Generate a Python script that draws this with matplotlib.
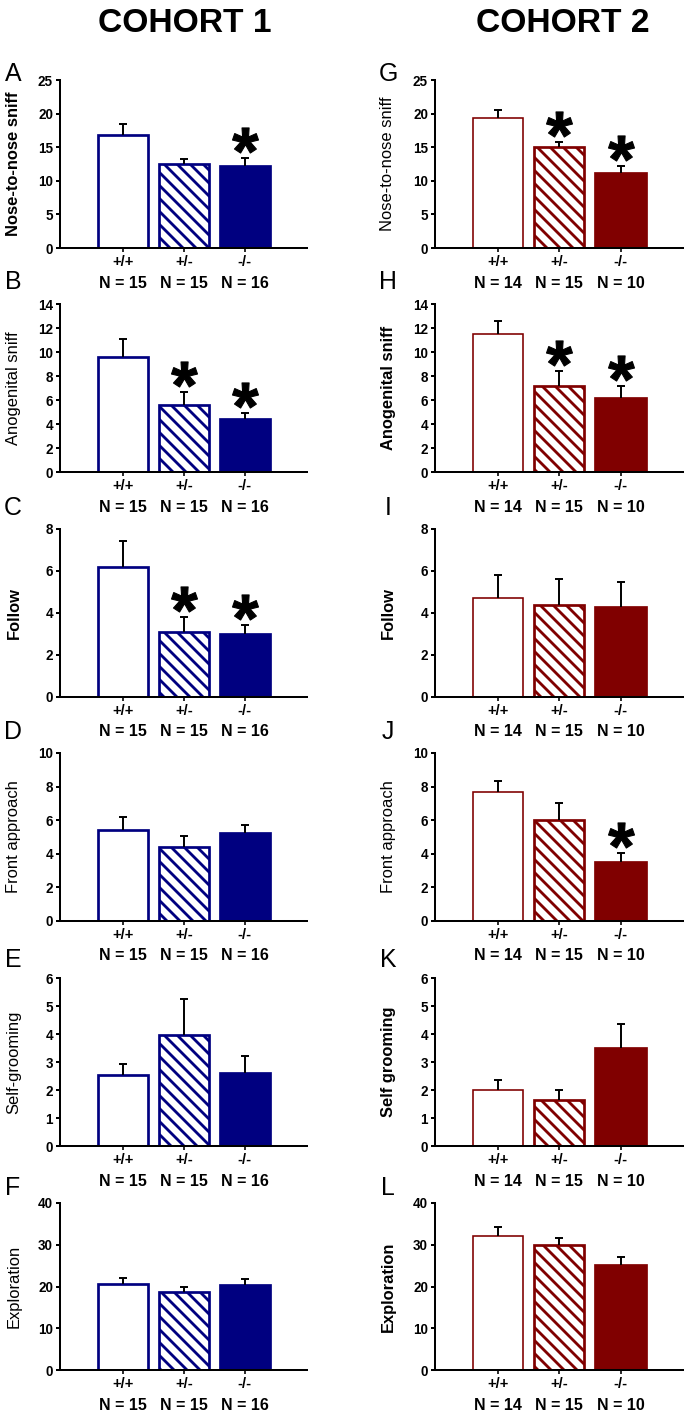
import numpy as np
import matplotlib
matplotlib.use('Agg')
import matplotlib.pyplot as plt
from matplotlib.textpath import TextPath
from matplotlib.font_manager import FontProperties
from matplotlib.path import Path
from matplotlib.transforms import offset_copy

plt.rcParams['font.family'] = ['Liberation Sans', 'DejaVu Sans']
plt.rcParams['hatch.linewidth'] = 2.6

# ---------------- data ----------------
genotypes = ['+/+', '+/-', '-/-']
n_cohort1 = [15, 15, 16]
n_cohort2 = [14, 15, 10]

labels_c1 = ['Nose-to-nose sniff', 'Anogenital sniff', 'Follow',
             'Front approach', 'Self-grooming', 'Exploration']
labels_c2 = ['Nose-to-nose sniff', 'Anogenital sniff', 'Follow',
             'Front approach', 'Self grooming', 'Exploration']
letters_c1 = ['A', 'B', 'C', 'D', 'E', 'F']
letters_c2 = ['G', 'H', 'I', 'J', 'K', 'L']

c1_nose = [16.8, 12.5, 12.2];    c1_nose_sem = [1.6, 0.8, 1.2]
c1_anog = [9.6, 5.6, 4.45];      c1_anog_sem = [1.5, 1.05, 0.45]
c1_follow = [6.2, 3.1, 3.0];     c1_follow_sem = [1.25, 0.7, 0.45]
c1_front = [5.4, 4.4, 5.25];     c1_front_sem = [0.8, 0.65, 0.45]
c1_groom = [2.55, 3.95, 2.62];   c1_groom_sem = [0.37, 1.3, 0.58]
c1_explore = [20.6, 18.8, 20.4]; c1_explore_sem = [1.4, 1.1, 1.4]

c2_nose = [19.3, 15.1, 11.2];    c2_nose_sem = [1.3, 0.65, 1.0]
c2_anog = [11.5, 7.15, 6.2];     c2_anog_sem = [1.1, 1.25, 0.95]
c2_follow = [4.7, 4.4, 4.3];     c2_follow_sem = [1.1, 1.2, 1.2]
c2_front = [7.65, 6.0, 3.5];     c2_front_sem = [0.7, 1.0, 0.55]
c2_groom = [2.0, 1.65, 3.5];     c2_groom_sem = [0.35, 0.35, 0.85]
c2_explore = [32.0, 30.0, 25.2]; c2_explore_sem = [2.3, 1.6, 1.8]

# significance markers (index of genotype)
stars_c1 = [[2], [1, 2], [1, 2], [], [], []]
stars_c2 = [[1, 2], [1, 2], [], [2], [], []]

y_max = [25, 14, 8, 10, 6, 40]
y_step = [5, 2, 2, 2, 1, 10]

weights_c1 = ['bold', 'normal', 'bold', 'normal', 'normal', 'normal']
weights_c2 = ['normal', 'bold', 'bold', 'normal', 'bold', 'bold']

c1_means = [c1_nose, c1_anog, c1_follow, c1_front, c1_groom, c1_explore]
c1_sems = [c1_nose_sem, c1_anog_sem, c1_follow_sem, c1_front_sem, c1_groom_sem, c1_explore_sem]
c2_means = [c2_nose, c2_anog, c2_follow, c2_front, c2_groom, c2_explore]
c2_sems = [c2_nose_sem, c2_anog_sem, c2_follow_sem, c2_front_sem, c2_groom_sem, c2_explore_sem]

# ---------------- layout ----------------
DPI = 78
W, H = 687, 1417
fig = plt.figure(figsize=(W / DPI, H / DPI), dpi=DPI)
PT = 72.0 / DPI  # points per pixel

row_tops = [80, 304, 529, 753, 978, 1203]
row_bots = [248, 472, 697, 921, 1146, 1370]
col_x = [(60, 307), (435, 683)]
letter_y = [74, 282, 508, 732, 960, 1188]
letter_x = [13, 388]
ylabel_x = [14, 388]

NAVY = '#000080'
MAROON = '#800000'

# asterisk marker path (centred, ignoring CLOSEPOLY dummy vertices)
_tp = TextPath((0, 0), '*', size=10, prop=FontProperties(family='Liberation Sans', weight='bold'))
_v = _tp.vertices.copy()
_codes = _tp.codes
_mask = _codes != Path.CLOSEPOLY
_c = (_v[_mask].min(axis=0) + _v[_mask].max(axis=0)) / 2.0
_v = _v - _c
_v[~_mask] = 0.0
star_path = Path(_v, _codes)

fig.text(185 / W, 1 - 23 / H, 'COHORT 1', ha='center', va='center',
         fontsize=31, fontweight='bold')
fig.text(563 / W, 1 - 23 / H, 'COHORT 2', ha='center', va='center',
         fontsize=31, fontweight='bold')

cohorts = [
    (c1_means, c1_sems, n_cohort1, labels_c1, letters_c1, stars_c1, weights_c1, NAVY, 2.5),
    (c2_means, c2_sems, n_cohort2, labels_c2, letters_c2, stars_c2, weights_c2, MAROON, 1.5),
]

x = np.arange(3)
for ci, (means_l, sems_l, ns, labs, lets, stars_l, wts, col, lw0) in enumerate(cohorts):
    x0, x1 = col_x[ci]
    for r in range(6):
        top, bot = row_tops[r], row_bots[r]
        ax = fig.add_axes([x0 / W, 1 - bot / H, (x1 - x0) / W, (bot - top) / H])
        means = np.array(means_l[r])
        sems = np.array(sems_l[r])
        bars = ax.bar(x, means, width=0.82, color=['white', 'white', col],
                      edgecolor=col, linewidth=2.5, zorder=2)
        bars[0].set_linewidth(lw0)
        bars[1].set_hatch('\\\\')
        # one-sided error bars
        ax.vlines(x, means, means + sems, colors='black', linewidth=1.8, zorder=3)
        ax.plot(x, means + sems, linestyle='none', marker='_', markersize=6.5,
                markeredgewidth=1.8, color='black', zorder=3)
        # stars
        si = stars_l[r]
        if si:
            tr = offset_copy(ax.transData, fig=fig, y=18 * PT, units='points')
            ax.plot(x[si], (means + sems)[si], linestyle='none', marker=star_path,
                    markersize=24, color='black', transform=tr, clip_on=False, zorder=4)
        ax.set_xlim(-1.03, 3.02)
        ax.set_ylim(0, y_max[r])
        ax.set_yticks(np.arange(0, y_max[r] + 0.001, y_step[r]))
        ax.set_yticklabels([str(int(v)) for v in np.arange(0, y_max[r] + 0.001, y_step[r])],
                           fontsize=12.5, fontweight='bold')
        ax.set_xticks(x)
        ax.set_xticklabels(genotypes, fontsize=13.5, fontweight='bold')
        for s in ['top', 'right']:
            ax.spines[s].set_visible(False)
        for s in ['left', 'bottom']:
            ax.spines[s].set_linewidth(1.85)
        ax.tick_params(axis='y', direction='out', length=4 * PT, width=1.85, pad=3 * PT)
        ax.tick_params(axis='x', direction='out', length=4 * PT, width=1.5, pad=3 * PT)
        for i, n in enumerate(ns):
            ax.annotate(f'N = {n}', xy=(i, 0), xycoords=('data', 'axes fraction'),
                        xytext=(0, -35 * PT), textcoords='offset points',
                        ha='center', va='center', fontsize=14.8, fontweight='bold')
        fig.text(ylabel_x[ci] / W, 1 - (top + bot) / 2 / H, labs[r], rotation=90,
                 ha='center', va='center', fontsize=15.2, fontweight=wts[r])
        fig.text(letter_x[ci] / W, 1 - letter_y[r] / H, lets[r], ha='center',
                 va='center', fontsize=23)

fig.savefig('out.png', dpi=DPI)
